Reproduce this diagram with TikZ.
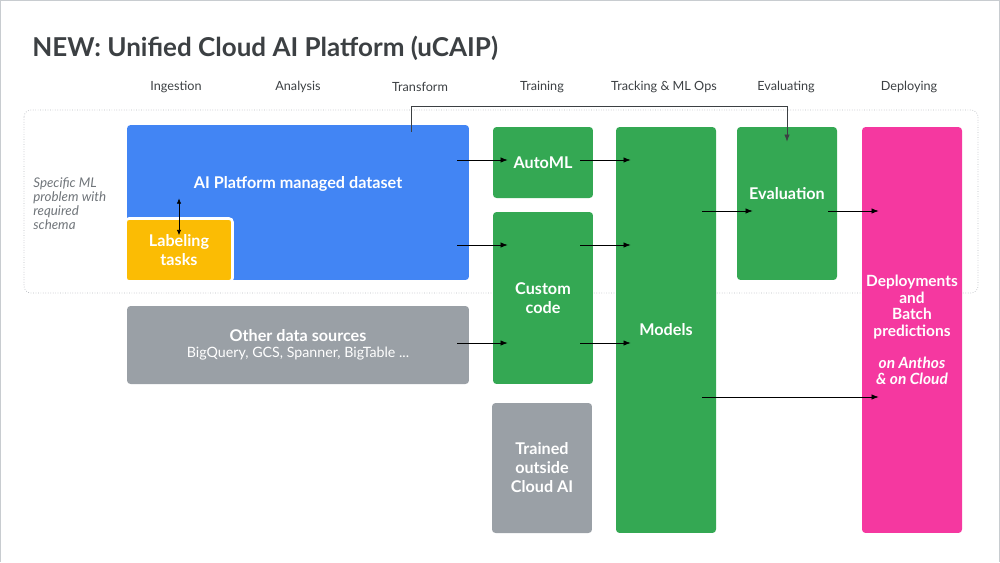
\documentclass[tikz,border=0pt]{standalone}
\usepackage{fontspec}
\setmainfont{Lato}
\usepackage{tikz}
\usetikzlibrary{positioning, arrows.meta}
\definecolor{gBlue}{HTML}{4285F4}
\definecolor{gGreen}{HTML}{34A853}
\definecolor{gYellow}{HTML}{FBBC04}
\definecolor{gPink}{HTML}{F538A0}
\definecolor{gGrey}{HTML}{9AA0A6}
\definecolor{gInk}{HTML}{3C4043}
\definecolor{gNote}{HTML}{70757A}
\definecolor{gFrame}{HTML}{C8CCD0}

\begin{document}
\begin{tikzpicture}[x=0.02cm, y=-0.02cm,
  box/.style={rounded corners=2pt, text=white, align=center,
    font=\fontsize{9.2}{10.8}\selectfont\bfseries, minimum width=2cm, inner sep=2pt},
  stage/.style={text=gInk, font=\fontsize{7.2}{8}\selectfont},
  flow/.style={-{Latex[length=4pt, width=3pt]}, thin, black}]

% slide frame and bounds
\useasboundingbox (0,0) rectangle (1000,562);
\draw[gFrame, line width=1.2pt] (0,562) -- (0,0) -- (1000,0) -- (1000,562);

\node[anchor=base west, inner sep=0pt, text=gInk, font=\fontsize{14.8}{16}\selectfont\bfseries]
  (title) at (32,56) {NEW: Unified Cloud AI Platform (uCAIP)};

% stage headings
\node[stage] (ingest) at (176,87) {Ingestion};
\node[stage] (analysis) at (298,87) {Analysis};
\node[stage] (transform) at (420,87) {Transform};
\node[stage] (training) at (542,87) {Training};
\node[stage] (tracking) at (664,87) {Tracking \& ML Ops};
\node[stage] (evaluating) at (786,87) {Evaluating};
\node[stage] (deploying) at (909,87) {Deploying};

% schema zone
\draw[gGrey!70, densely dotted, rounded corners=4pt] (24,110) rectangle (978,293);
\node[anchor=west, align=left, inner sep=0pt, text=gNote, font=\fontsize{7.6}{8}\selectfont\itshape]
  (schema) at (33,204) {Specific ML\\problem with\\required\\schema};

% boxes
\node[box, fill=gBlue, minimum width=6.84cm, minimum height=3.1cm] (dataset)
  at (298,202.5) {};
\node[box] (datasetlbl) at (298,184) {AI Platform managed dataset};
\node[box, fill=gYellow, draw=white, line width=1.5pt,
      minimum width=2.14cm, minimum height=1.26cm] (label) at (179,250)
  {Labeling\\tasks};
\node[box, fill=gGrey, minimum width=6.84cm, minimum height=1.56cm] (other)
  at (298,345) {Other data sources\\[-2pt]\fontsize{8.1}{9}\selectfont\mdseries BigQuery, GCS, Spanner, BigTable ...};

\node[box, fill=gGreen, minimum height=1.42cm] (automl) at (543,162.5) {AutoML};
\node[box, fill=gGreen, minimum height=3.44cm] (custom) at (543,298) {Custom\\code};
\node[box, fill=gGrey, minimum height=2.6cm] (trained) at (542,468)
  {Trained\\outside\\Cloud AI};
\node[box, fill=gGreen, minimum height=8.12cm] (models) at (666,330) {Models};
\node[box, fill=gGreen, minimum height=3.06cm] (eval) at (787,203.5) {};
\node[box] (evallbl) at (787,194) {Evaluation};
\node[box, fill=gPink, minimum height=8.12cm, font=\fontsize{8.8}{9.4}\selectfont\bfseries]
  (deploy) at (912,330)
  {Deployments\\and\\Batch\\predictions\\[9pt]\itshape on Anthos\\\itshape \& on Cloud};

% connectors
\draw[{Latex[length=3pt, width=2.5pt]}-{Latex[length=3pt, width=2.5pt]}, thin]
  ([yshift=-0.06cm]label.north |- datasetlbl.south) -- ([yshift=-0.36cm]label.north);

\draw[flow] ([xshift=-0.24cm]dataset.east |- 0,160) -- ([xshift=0.3cm]automl.west |- 0,160);
\draw[flow] ([xshift=-0.24cm]dataset.east |- 0,245) -- ([xshift=0.3cm]custom.west |- 0,245);
\draw[flow] ([xshift=-0.24cm]other.east |- 0,343) -- ([xshift=0.3cm]custom.west |- 0,343);
\draw[flow] ([xshift=-0.26cm]automl.east |- 0,160) -- ([xshift=0.3cm]models.west |- 0,160);
\draw[flow] ([xshift=-0.26cm]custom.east |- 0,245) -- ([xshift=0.3cm]models.west |- 0,245);
\draw[flow] ([xshift=-0.26cm]custom.east |- 0,343) -- ([xshift=0.3cm]models.west |- 0,343);
\draw[flow] ([xshift=-0.28cm]models.east |- 0,211) -- ([xshift=0.32cm]eval.west |- 0,211);
\draw[flow] ([xshift=-0.18cm]eval.east |- 0,211) -- ([xshift=0.34cm]deploy.west |- 0,211);
\draw[flow] ([xshift=-0.28cm]models.east |- 0,397) -- ([xshift=0.34cm]deploy.west |- 0,397);

\draw[flow, gInk] ([yshift=-0.14cm]dataset.north -| 411,0) -- (411,106) -- (787,106)
  -- ([yshift=-0.3cm]eval.north);

\end{tikzpicture}
\end{document}
